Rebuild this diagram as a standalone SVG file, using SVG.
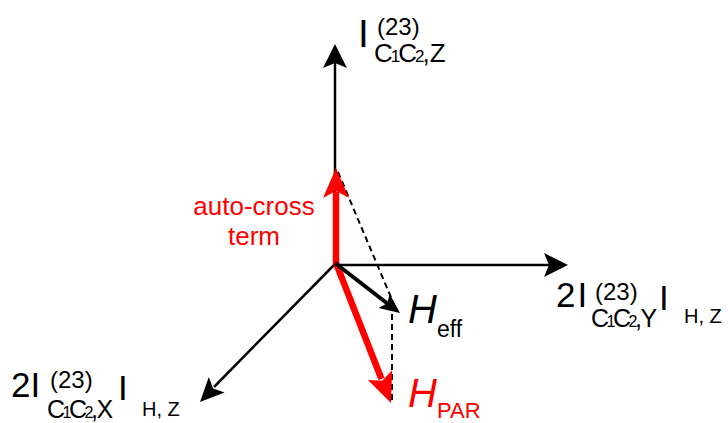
<svg xmlns="http://www.w3.org/2000/svg" width="728" height="423" viewBox="0 0 728 423">
<style>
text{font-family:"Liberation Sans",Arial,sans-serif;fill:#000}
.red{fill:#ff0000}
.sup{font-size:24px}
.sub{font-size:25px;letter-spacing:-2.5px}
.ss{font-size:16px}
.hz{font-size:20px}
.ax{stroke:#000;stroke-width:2.5;fill:none}
.dash{stroke:#000;stroke-width:2;stroke-dasharray:6 4;fill:none}
</style>
<rect width="728" height="423" fill="#fff"/>
<g id="connectors">
  <line class="ax" x1="335" y1="264" x2="335" y2="62"/>
  <path d="M335,44 L347,68 L335,63 L323,68 Z" fill="#000"/>
  <line class="ax" x1="335" y1="265" x2="550" y2="265"/>
  <path d="M568,265 L544,277 L549,265 L544,253 Z" fill="#000"/>
  <line class="ax" x1="335" y1="264" x2="214" y2="387"/>
  <path d="M200,402 L208.8,377.1 L213.2,388.4 L224.6,392.5 Z" fill="#000"/>
  <line class="dash" x1="338" y1="172" x2="393" y2="302"/>
  <line class="dash" x1="392" y1="314" x2="392" y2="402"/>
  <line x1="336" y1="264" x2="336" y2="192" stroke="#ff0000" stroke-width="6.5"/>
  <path d="M336,168 L349,198 L336,191 L323,198 Z" fill="#ff0000"/>
  <line x1="336" y1="263" x2="381.5" y2="379" stroke="#ff0000" stroke-width="6.5"/>
  <path d="M391,403 L367.9,379.9 L382.2,380.7 L392.1,370.3 Z" fill="#ff0000"/>
  <line x1="335" y1="263" x2="388" y2="304" stroke="#000" stroke-width="4"/>
  <path d="M400,313 L378.6,307.9 L387.3,303.2 L389.6,293.7 Z" fill="#000"/>
</g>
<g id="label-z">
  <text x="358" y="47" style="font-size:39px">I</text>
  <text x="377" y="35" class="sup">(23)</text>
  <text x="374" y="62" style="font-size:26px;letter-spacing:-2px">C<tspan style="font-size:17px">1</tspan>C<tspan style="font-size:17px">2</tspan>,<tspan dx="2">Z</tspan></text>
</g>
<g id="label-y">
  <text x="556" y="307" style="font-size:35px">2<tspan dx="2">I</tspan></text>
  <text x="595" y="300" class="sup">(23)</text>
  <text x="591" y="327" class="sub">C<tspan class="ss">1</tspan>C<tspan class="ss">2</tspan>,<tspan dx="1">Y</tspan></text>
  <text x="659" y="310" style="font-size:35px">I</text>
  <text x="684" y="323" class="hz">H, Z</text>
</g>
<g id="label-x">
  <text x="11" y="397" style="font-size:35px">2I</text>
  <text x="50" y="388" class="sup">(23)</text>
  <text x="47" y="418" class="sub">C<tspan class="ss">1</tspan>C<tspan class="ss">2</tspan>,<tspan dx="1">X</tspan></text>
  <text x="118" y="400" style="font-size:35px">I</text>
  <text x="142" y="416" class="hz">H, Z</text>
</g>
<g id="label-autocross">
  <text x="254" y="215" class="red" style="font-size:26px" text-anchor="middle">auto-cross</text>
  <text x="254" y="245" class="red" style="font-size:26px" text-anchor="middle">term</text>
</g>
<g id="label-heff">
  <text x="408" y="323" style="font-size:40px;font-style:italic">H</text>
  <text x="437" y="337" style="font-size:23px">eff</text>
</g>
<g id="label-hpar">
  <text x="408" y="407" class="red" style="font-size:40px;font-style:italic">H</text>
  <text x="437" y="418" class="red" style="font-size:22px">PAR</text>
</g>
</svg>
